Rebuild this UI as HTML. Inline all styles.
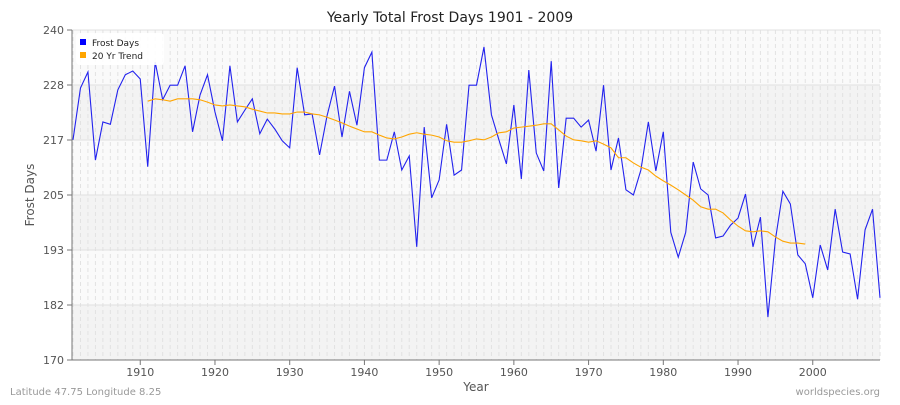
<!DOCTYPE html>
<html><head><meta charset="utf-8"><style>
body{margin:0;background:#fff;font-family:"Liberation Sans",sans-serif}
svg text{font-family:"DejaVu Sans","Liberation Sans",sans-serif}
</style></head><body>
<svg id="c" width="900" height="400" xmlns="http://www.w3.org/2000/svg">
<rect width="900" height="400" fill="#fff"/>
<text x="450" y="22" text-anchor="middle" font-size="14" fill="#222">Yearly Total Frost Days 1901 - 2009</text>
<g id="plot"></g>
<text transform="translate(34,195) rotate(-90)" text-anchor="middle" font-size="12" fill="#555">Frost Days</text>
<text x="476" y="391" text-anchor="middle" font-size="12" fill="#555">Year</text>
<text x="10" y="395" font-size="10" fill="#999">Latitude 47.75 Longitude 8.25</text>
<text x="880" y="395" text-anchor="end" font-size="10" fill="#999">worldspecies.org</text>
<g>
<rect x="76" y="33" width="88" height="32" rx="4" fill="#fff" opacity="0.9"/>
<rect x="80" y="39" width="6" height="6" fill="#0000ff"/>
<text x="92" y="46" font-size="9" fill="#222">Frost Days</text>
<rect x="80" y="52" width="6" height="6" fill="#ffa500"/>
<text x="92" y="59" font-size="9" fill="#222">20 Yr Trend</text>
</g>
</svg>
<script>
const startYear = 1901;
const frostDays = [216.7,227.7,231.1,212.4,220.5,220,227.3,230.5,231.3,229.6,211,233.2,225.2,228.3,228.3,232.4,218.4,226.2,230.5,222.6,216.5,232.4,220.5,223,225.4,218,221.1,219,216.5,215,232,222,222.2,213.5,221.8,228.1,217.3,227,219.8,232,235.3,212.4,212.4,218.4,210.3,213.3,194,219.4,204.4,208.2,220,209.2,210.3,228.3,228.3,236.4,222,216.7,211.6,224.1,208.4,231.5,213.9,210.1,233.4,206.5,221.3,221.3,219.4,220.9,214.3,228.3,210.3,217.1,206.1,205,210.3,220.5,210.1,218.4,197.1,191.8,197.1,212,206.3,205,195.9,196.3,198.6,200.1,205.2,194,200.3,179.1,195.5,205.8,203.1,192.3,190.4,183.2,194.4,189.1,202,192.9,192.5,182.9,197.6,202,183.2];
const trendStart = 1911;
const trend = [224.9,225.4,225.2,224.9,225.4,225.4,225.4,225.2,224.7,224.1,223.9,224.1,223.9,223.7,223.2,222.8,222.4,222.4,222.2,222.2,222.6,222.6,222.2,222,221.5,220.9,220.3,219.6,219,218.4,218.4,217.7,217.1,216.9,217.3,217.9,218.2,217.9,217.7,217.3,216.5,216.2,216.2,216.5,216.9,216.7,217.3,218.2,218.4,219.2,219.4,219.6,219.8,220.1,220.1,218.8,217.5,216.7,216.5,216.2,216.5,215.8,215,212.9,212.9,211.8,210.9,210.3,209,208,207.1,206.1,205,203.9,202.5,202,202,201.2,199.7,198.4,197.4,197.2,197.4,197.2,196.1,195.2,194.8,194.8,194.6];
const yTicks = [170,181.667,193.333,205,216.667,228.333,240];
const yTickLabels = ["170","182","193","205","217","228","240"];
const xTicks = [1910,1920,1930,1940,1950,1960,1970,1980,1990,2000];
const X0=72,X1=880,Y0=30,Y1=360;
const xs = yr => 73 + (yr-1901)*(807/108);
const ys = v => Y0 + (240-v)*(Y1-Y0)/70;
const NS="http://www.w3.org/2000/svg";
const g=document.getElementById('plot');
function mk(t,a){const e=document.createElementNS(NS,t);for(const k in a)e.setAttribute(k,a[k]);g.appendChild(e);return e;}
for(let i=0;i<6;i++){const top=Y0+i*(Y1-Y0)/6;
const r=mk('rect',{x:X0,y:top,width:X1-X0,height:(Y1-Y0)/6,fill:i%2?'#f3f3f3':'#fafafa'});

}
for(let yr=1901;yr<=2009;yr++){const x=xs(yr);
const l=mk('line',{x1:x,x2:x,y1:Y0,y2:Y1,stroke:'#e2e2e2','stroke-dasharray':'4,3','stroke-width':1});

}
yTicks.forEach((v,i)=>{const y=ys(v);
const l=mk('line',{x1:X0,x2:X1,y1:y,y2:y,stroke:'#e0e0e0'});


const t=mk('text',{x:X0-8,y:y+4,'text-anchor':'end','font-size':11,fill:'#555'});t.textContent=yTickLabels[i];


const tk=mk('line',{x1:X0-5,x2:X0,y1:y,y2:y,stroke:'#777'});

});
xTicks.forEach(yr=>{const x=xs(yr);
const t=mk('text',{x:x,y:Y1+16,'text-anchor':'middle','font-size':11,fill:'#555'});t.textContent=yr;


const tk=mk('line',{x1:x,x2:x,y1:Y1,y2:Y1+5,stroke:'#777'});

});
const ax=mk('path',{d:`M${X0},${Y0}V${Y1}H${X1}`,stroke:'#777',fill:'none'});


const fd=mk('polyline',{points:frostDays.map((v,i)=>xs(startYear+i)+','+ys(v)).join(' '),fill:'none',stroke:'#2222ee','stroke-width':1.1});


const tr=mk('polyline',{points:trend.map((v,i)=>xs(trendStart+i)+','+ys(v)).join(' '),fill:'none',stroke:'#ffa500','stroke-width':1.1});


</script>
</body></html>
